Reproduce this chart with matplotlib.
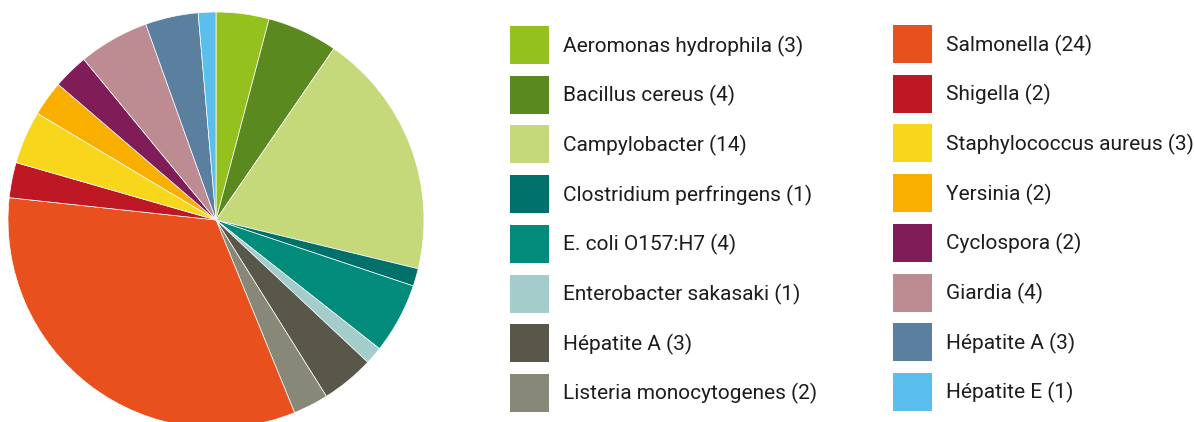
import matplotlib
matplotlib.use('Agg')
import matplotlib.pyplot as plt
from matplotlib.patches import Rectangle

# Data
labels = ['Aeromonas hydrophila', 'Bacillus cereus', 'Campylobacter',
          'Clostridium perfringens', 'E. coli O157:H7', 'Enterobacter sakasaki',
          'Hépatite A', 'Listeria monocytogenes', 'Salmonella', 'Shigella',
          'Staphylococcus aureus', 'Yersinia', 'Cyclospora', 'Giardia',
          'Hépatite A', 'Hépatite E']
counts = [3, 4, 14, 1, 4, 1, 3, 2, 24, 2, 3, 2, 2, 4, 3, 1]
colors = ['#95C11F', '#5A8A1F', '#C5D97A', '#00706A', '#008B7B', '#A3CCCB',
          '#58574A', '#888878', '#E8501E', '#BE1824', '#F8D61B', '#F9AF00',
          '#801C57', '#BC8C92', '#5B7F9F', '#5ABFEC']

plt.rcParams['font.family'] = ['Roboto', 'DejaVu Sans']

W, H = 1194, 422
fig = plt.figure(figsize=(W / 100, H / 100), dpi=100)
ax = fig.add_axes([0, 0, 1, 1])
ax.axis('off')

# pie drawn counterclock=True because the y axis is flipped
ax.pie(counts, colors=colors, startangle=-90, counterclock=True,
       center=(216, 220), radius=208,
       wedgeprops=dict(linewidth=0.5, edgecolor='white'))
ax.set_xlim(0, W)
ax.set_ylim(H, 0)
ax.set_aspect('equal')

# legend, two columns of eight
for i, (lab, n, c) in enumerate(zip(labels, counts, colors)):
    col, row = divmod(i, 8)
    x0 = 510 + col * 383
    y0 = 26 + row * 49.7 - col * 1
    ax.add_patch(Rectangle((x0, y0), 39, 38, facecolor=c, edgecolor='none'))
    ax.text(x0 + 53, y0 + 20, f'{lab} ({n})', fontsize=15, color='#1d1d1b',
            va='center', ha='left')

fig.savefig('out.png', dpi=100)
